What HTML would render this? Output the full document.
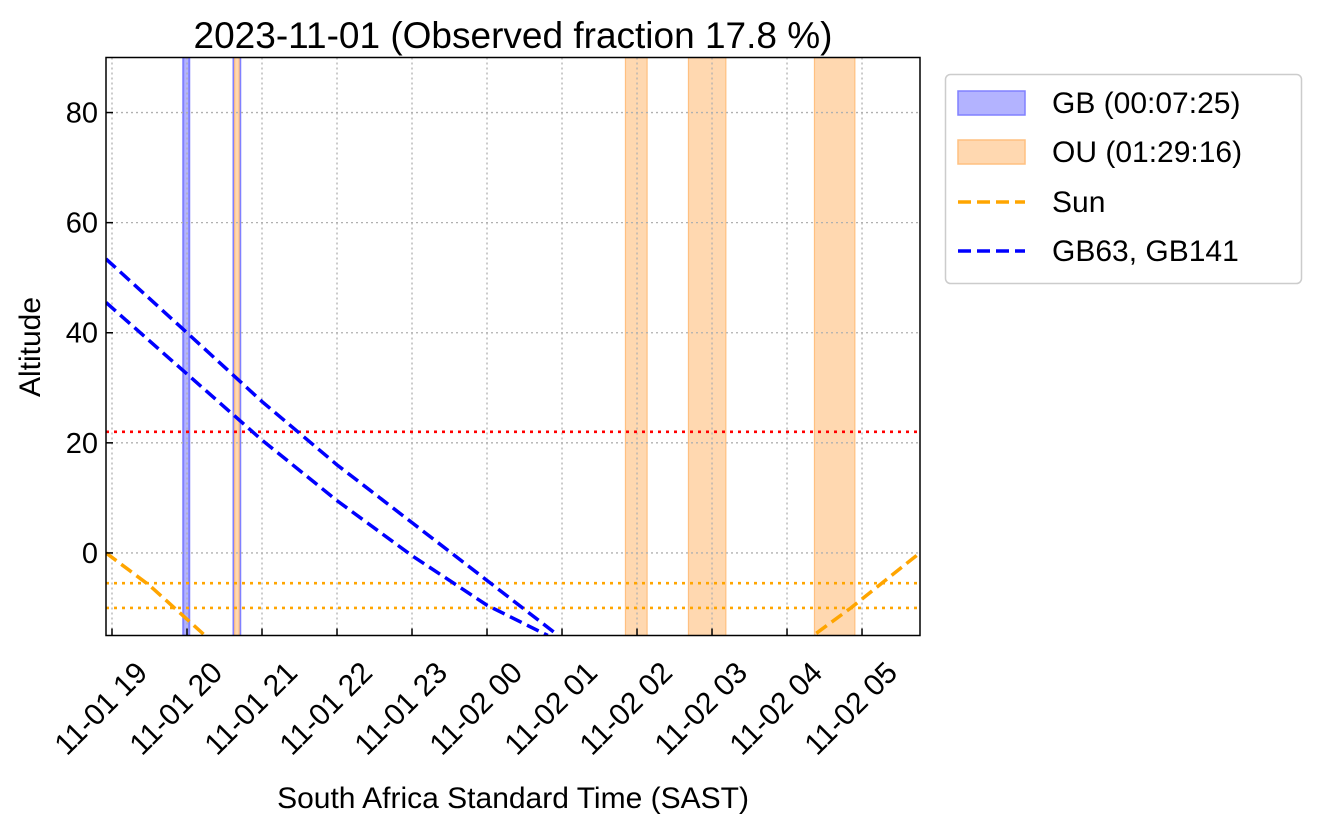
<!DOCTYPE html>
<html><head><meta charset="utf-8"><style>
html,body{margin:0;padding:0;background:#fff;}
svg{display:block;font-family:"Liberation Sans","DejaVu Sans",sans-serif;}
</style></head><body>
<svg id="chart" width="1317" height="829" viewBox="0 0 1317 829" xmlns="http://www.w3.org/2000/svg">
<defs><clipPath id="plotclip"><rect x="106" y="57.5" width="814" height="578"/></clipPath></defs>
<text x="513" y="48" font-size="37" text-anchor="middle">2023-11-01 (Observed fraction 17.8 %)</text>
<g id="bands" clip-path="url(#plotclip)"></g>
<g id="grid"></g>
<g id="lines" clip-path="url(#plotclip)"></g>
<rect x="106" y="57.5" width="814" height="578" fill="none" stroke="#000" stroke-width="1.5"/>
<g id="axes"></g>
<text transform="translate(40,347) rotate(-90)" font-size="30" text-anchor="middle">Altitude</text>
<text x="513" y="808" font-size="30" text-anchor="middle">South Africa Standard Time (SAST)</text>
<g>
<rect x="945.5" y="74.5" width="356" height="209" rx="5" fill="#fff" stroke="#ccc" stroke-width="1.5"/>
<rect x="958" y="91" width="67" height="24" fill="#b3b3ff" stroke="#8080ff" stroke-width="1.5"/>
<text x="1052" y="113" font-size="30">GB (00:07:25)</text>
<rect x="958" y="140" width="67" height="24" fill="#ffd8b0" stroke="#ffc080" stroke-width="1.5"/>
<text x="1052" y="162" font-size="30">OU (01:29:16)</text>
<line x1="958" y1="202" x2="1025" y2="202" stroke="orange" stroke-width="3.5" stroke-dasharray="13,6"/>
<text x="1052" y="212" font-size="30">Sun</text>
<line x1="958" y1="251" x2="1025" y2="251" stroke="#0000ff" stroke-width="3.5" stroke-dasharray="13,6"/>
<text x="1052" y="261" font-size="30">GB63, GB141</text>
</g>
</svg>
<script>
const xTickHours = [19,20,21,22,23,24,25,26,27,28,29];
const xTickLabels = ["11-01 19","11-01 20","11-01 21","11-01 22","11-01 23","11-02 00","11-02 01","11-02 02","11-02 03","11-02 04","11-02 05"];
const yTicks = [0,20,40,60,80];
const gbIntervals = [[19.95,20.03],[20.62,20.71]];
const ouIntervals = [[20.62,20.71],[25.83,26.15],[26.67,27.2],[28.35,28.92]];
const gb63Hours = [18.92,20,21,22,23,24,24.95];
const gb63Alt = [53.4,40,27.5,16,5.5,-5,-15];
const gb141Hours = [18.92,20,21,22,23,24,24.81];
const gb141Alt = [45.5,32.5,20.5,9.5,-0.5,-9.5,-15];
const sunEveHours = [18.92,19.5,20.24,20.6];
const sunEveAlt = [0,-5.9,-15,-19];
const sunMornHours = [28.0,28.35,28.85,29.77,29.9];
const sunMornAlt = [-19,-15,-10,0,1.3];
const limitAlt = 22;
const twilightAlts = [-5.5,-10];
const xMin=18.92, xMax=29.773, yMin=-15, yMax=90;
const L=106,R=920,T=57.5,B=635.5;
function xs(h){return L+(h-xMin)/(xMax-xMin)*(R-L);}
function ys(v){return B-(v-yMin)/(yMax-yMin)*(B-T);}
const NS="http://www.w3.org/2000/svg";
function mk(tag,attrs,parent){const e=document.createElementNS(NS,tag);for(const k in attrs)e.setAttribute(k,attrs[k]);parent.appendChild(e);return e;}
const bands=document.getElementById('bands'),grid=document.getElementById('grid'),lines=document.getElementById('lines'),axes=document.getElementById('axes');
gbIntervals.forEach((iv,i)=>{const r=mk('rect',{x:xs(iv[0]),y:T,width:xs(iv[1])-xs(iv[0]),height:B-T,fill:'#b3b3ff',stroke:'#8080ff','stroke-width':2},bands);

});
ouIntervals.forEach((iv,i)=>{const r=mk('rect',{x:xs(iv[0])+1.2,y:T,width:Math.max(1,xs(iv[1])-xs(iv[0])-2.4),height:B-T,fill:'#ffd8b0',stroke:'#ffc080','stroke-width':1.2},bands);

});
xTickHours.forEach((h,i)=>{const x=xs(h);
const g=mk('line',{x1:x,y1:T,x2:x,y2:B,stroke:'#b0b0b0','stroke-width':1.3,'stroke-dasharray':'2,3'},grid);


const t=mk('line',{x1:x,y1:B,x2:x,y2:B-7,stroke:'#000','stroke-width':1.5},axes);


const lb=mk('text',{transform:`translate(${x-4},${B+80}) rotate(-45)`,'font-size':30,'text-anchor':'middle'},axes);
lb.textContent=xTickLabels[i];

});
yTicks.forEach(v=>{const y=ys(v);
const g=mk('line',{x1:L,y1:y,x2:R,y2:y,stroke:'#b0b0b0','stroke-width':1.3,'stroke-dasharray':'2,3'},grid);


const t=mk('line',{x1:L,y1:y,x2:L+7,y2:y,stroke:'#000','stroke-width':1.5},axes);


const lb=mk('text',{x:L-8,y:y+10,'font-size':29,'text-anchor':'end'},axes);
lb.textContent=String(v);

});
function hline(v,color,name){const l=mk('line',{x1:L,y1:ys(v),x2:R,y2:ys(v),stroke:color,'stroke-width':2.6,'stroke-dasharray':'3,5'},lines);

}
hline(limitAlt,'#ff0000','altitude-limit-line');
twilightAlts.forEach(v=>hline(v,'orange','twilight-line'));
function poly(hs,vs,color,name){const p=mk('polyline',{points:hs.map((h,i)=>xs(h)+','+ys(vs[i])).join(' '),fill:'none',stroke:color,'stroke-width':3.5,'stroke-dasharray':'13,6'},lines);

}
poly(sunEveHours,sunEveAlt,'orange','sun-evening-line');
poly(sunMornHours,sunMornAlt,'orange','sun-morning-line');
poly(gb63Hours,gb63Alt,'#0000ff','gb63-line');
poly(gb141Hours,gb141Alt,'#0000ff','gb141-line');
</script>
</body></html>
